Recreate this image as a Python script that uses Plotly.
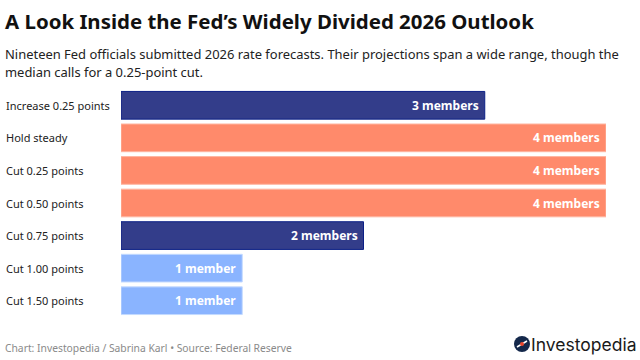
import plotly.graph_objects as go

categories = ["Increase 0.25 points", "Hold steady", "Cut 0.25 points", "Cut 0.50 points",
              "Cut 0.75 points", "Cut 1.00 points", "Cut 1.50 points"]
members = [3, 4, 4, 4, 2, 1, 1]
bar_labels = ["3 members", "4 members", "4 members", "4 members", "2 members", "1 member", "1 member"]
fills = ["#333D8A", "#FF8A6B", "#FF8A6B", "#FF8A6B", "#333D8A", "#8AB4FF", "#8AB4FF"]
edges = ["#0C2086", "#FFB5A0", "#FFB5A0", "#FFB5A0", "#0C2086", "#C4DAFF", "#C4DAFF"]

FONT = "Noto Sans"
W, H = 640, 360

fig = go.Figure(go.Bar(
    x=members, y=categories, orientation="h",
    marker=dict(color=fills, line=dict(color=edges, width=1)),
    hoverinfo="skip", width=0.85,
))

fig.update_layout(
    width=W, height=H, autosize=False, margin=dict(l=0, r=0, t=0, b=0),
    paper_bgcolor="#FFFFFF", plot_bgcolor="#FFFFFF", showlegend=False,
    xaxis=dict(domain=[121 / W, 606 / W], range=[0, 4], visible=False, fixedrange=True),
    yaxis=dict(domain=[1 - 317 / H, 1 - 89 / H], autorange="reversed", visible=False, fixedrange=True),
)

def note(text, x, y, size, color, weight=400, anchor="left", family=FONT):
    fig.add_annotation(text=text, xref="paper", yref="paper", x=x / W, y=1 - y / H,
                       xanchor=anchor, yanchor="middle", showarrow=False,
                       font=dict(family=family, size=size, color=color, weight=weight),
                       align="left", borderpad=0, borderwidth=0)

for c, v, t in zip(categories, members, bar_labels):
    fig.add_annotation(text=c, xref="paper", yref="y", x=5 / W, y=c, xanchor="left", yanchor="middle",
                       showarrow=False, font=dict(family=FONT, size=11, color="#222222"), borderpad=0)
    fig.add_annotation(text=t, xref="x", yref="y", x=v, y=c, xanchor="right", yanchor="middle", xshift=-5,
                       showarrow=False, font=dict(family=FONT, size=12, color="#FFFFFF", weight=700), borderpad=0)

note("A Look Inside the Fed’s Widely Divided 2026 Outlook", 5, 21, 20.45, "#111111", 700)
note("Nineteen Fed officials submitted 2026 rate forecasts. Their projections span a wide range, though the", 5, 54, 12.95, "#222222")
note("median calls for a 0.25-point cut.", 5, 72, 12.95, "#222222")
note("Chart: Investopedia / Sabrina Karl • Source: Federal Reserve", 5, 348, 10.3, "#8A8A8A")
note("Investopedia", 531, 344, 17.5, "#1A1A1A", family="Inter")

fig.add_shape(type="circle", xref="paper", yref="paper", x0=514 / W, x1=530 / W, y0=1 - 352 / H, y1=1 - 336 / H,
              fillcolor="#14284B", line=dict(width=0))
fig.add_shape(type="line", xref="paper", yref="paper", x0=517 / W, x1=527 / W, y0=1 - 347 / H, y1=1 - 341 / H,
              line=dict(color="#FFFFFF", width=1.5))
fig.add_shape(type="circle", xref="paper", yref="paper", x0=520 / W, x1=524 / W, y0=1 - 346 / H, y1=1 - 342 / H,
              fillcolor="#E8452C", line=dict(width=0))

fig.write_html("out.html", config=dict(displayModeBar=False),
               post_script="document.body.style.margin='0';")
